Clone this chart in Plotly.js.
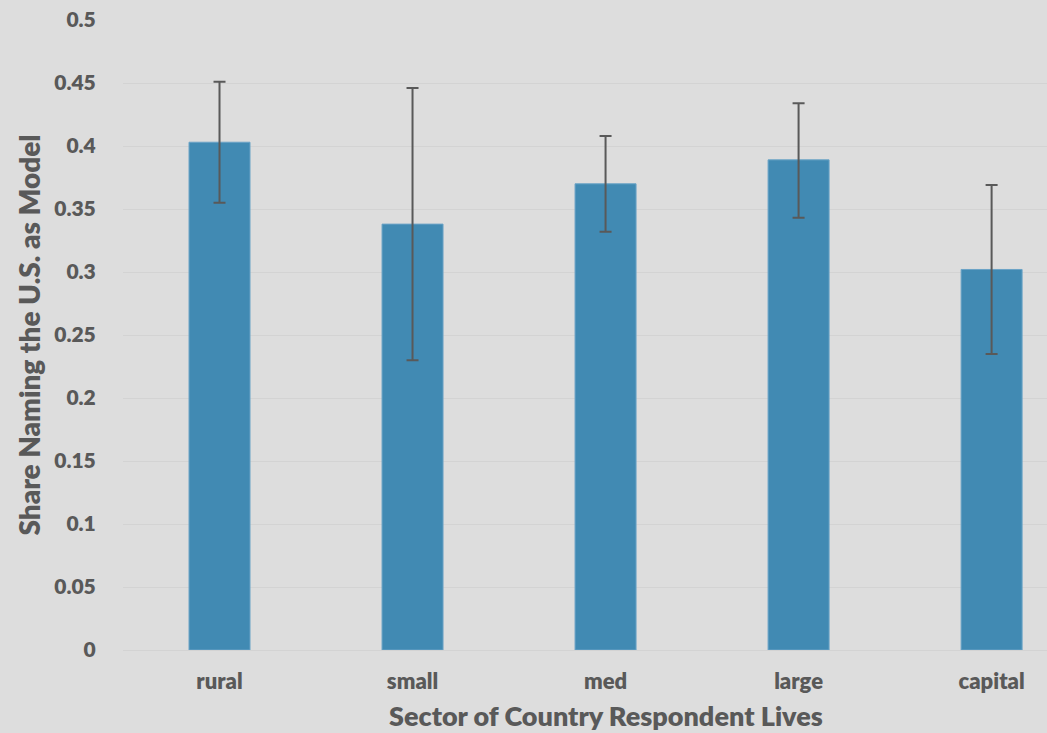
<!DOCTYPE html>
<html>
<head>
<meta charset="utf-8">
<script src="https://cdn.plot.ly/plotly-3.0.1.min.js"></script>
<style>html,body{margin:0;padding:0;background:#dddddd;}#chart{width:1047px;height:733px;}</style>
</head>
<body>
<div id="chart"></div>
<script>
const categories = ["rural", "small", "med", "large", "capital"];
const shares = [0.403, 0.338, 0.370, 0.389, 0.302];
const upperBounds = [0.451, 0.446, 0.408, 0.434, 0.369];
const lowerBounds = [0.355, 0.230, 0.332, 0.343, 0.235];
const yTickVals = [0, 0.05, 0.1, 0.15, 0.2, 0.25, 0.3, 0.35, 0.4, 0.45, 0.5];
const yTickText = ["0", "0.05", "0.1", "0.15", "0.2", "0.25", "0.3", "0.35", "0.4", "0.45", "0.5"];
const xTitle = "Sector of Country Respondent Lives";
const yTitle = "Share Naming the U.S. as Model";

const errPlus = shares.map((v, i) => upperBounds[i] - v);
const errMinus = shares.map((v, i) => v - lowerBounds[i]);

const txt = "#595959";
const fontFam = "Lato, 'Open Sans', sans-serif";

Plotly.newPlot("chart", [{
  type: "bar",
  x: categories,
  y: shares,
  marker: {color: "#418ab3", line: {color: "#6aa3c6", width: 1}},
  error_y: {type: "data", symmetric: false, array: errPlus, arrayminus: errMinus,
            color: "#595959", thickness: 2, width: 6},
  hoverinfo: "x+y"
}], {
  width: 1047, height: 733,
  paper_bgcolor: "#dddddd", plot_bgcolor: "#dddddd",
  margin: {l: 123, r: 0, t: 20, b: 83},
  bargap: 0.684,
  showlegend: false,
  font: {family: fontFam, color: txt, size: 20, weight: 800},
  xaxis: {
    range: [-0.5, 4.287],
    showgrid: false, zeroline: false, showline: false,
    tickfont: {family: fontFam, size: 22, color: txt, weight: 800},
    ticks: "outside", ticklen: 12, tickcolor: "rgba(0,0,0,0)"
  },
  yaxis: {
    range: [0, 0.5],
    tickvals: yTickVals, ticktext: yTickText,
    showgrid: true, gridcolor: "#d3d3d3", gridwidth: 1,
    zeroline: true, zerolinecolor: "#d3d3d3", zerolinewidth: 1,
    showline: false,
    ticks: "outside", ticklen: 22, tickcolor: "rgba(0,0,0,0)",
    tickfont: {family: fontFam, size: 21, color: txt, weight: 800},
    title: {text: yTitle, standoff: 5,
            font: {family: fontFam, size: 28, color: txt, weight: 800}}
  },
  annotations: [{
    text: xTitle, xref: "x", x: categories[2], yref: "paper", y: -0.1035,
    xanchor: "center", yanchor: "middle", showarrow: false,
    font: {family: fontFam, size: 27, color: txt, weight: 800}
  }]
}, {displayModeBar: false, staticPlot: true});
</script>
</body>
</html>
